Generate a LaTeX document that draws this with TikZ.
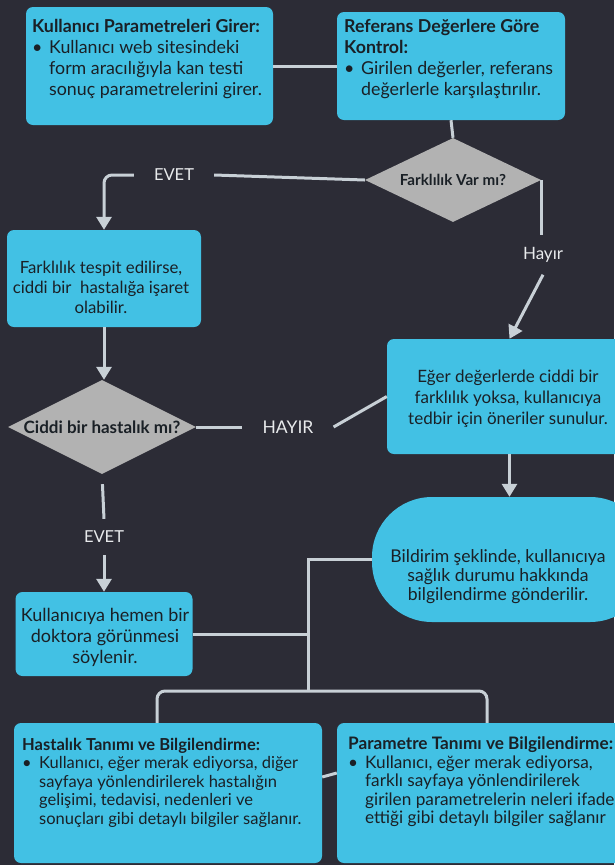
\documentclass[tikz,border=0pt]{standalone}
\usepackage{fontspec}
\setmainfont{Lato}
\usetikzlibrary{shapes.geometric,arrows.meta,positioning,calc}

\definecolor{bgdark}{RGB}{44,44,54}
\definecolor{boxcyan}{RGB}{66,193,228}
\definecolor{diagray}{RGB}{178,178,178}
\definecolor{linegray}{RGB}{200,208,214}
\definecolor{inkdark}{RGB}{26,32,38}
\definecolor{answerwhite}{RGB}{232,234,236}

% bullet and hanging indent for list lines
\newcommand{\bulletmark}{\makebox[17pt][l]{\textbullet}}
\newcommand{\bulletgap}{\hspace*{17pt}}

\begin{document}
\begin{tikzpicture}[x=1pt, y=-1pt,
    % Node styles
    stepbox/.style={fill=boxcyan, rounded corners=7pt, inner sep=0pt},
    bodytext/.style={text=inkdark, align=left, inner sep=0pt, anchor=north west},
    centertext/.style={text=inkdark, align=center, inner sep=0pt},
    decision/.style={diamond, fill=diagray, inner sep=0pt, aspect=2, text=inkdark},
    answer/.style={text=answerwhite, font=\fontsize{16.5}{18}\selectfont, inner xsep=20pt, inner ysep=12pt},
    link/.style={draw=linegray, line width=3pt},
    edge/.style={link, -{Triangle[width=15pt,length=13pt]}},
]

% ============================================================
% Canvas
% ============================================================
\fill[bgdark] (0,0) rectangle (614,865);
\useasboundingbox (0,0) rectangle (614,865);

% ============================================================
% Input and reference check
% ============================================================
\node[stepbox, minimum width=247, minimum height=118] (input) at (149.5,66) {};
\node[bodytext, font=\fontsize{17.8}{21}\selectfont] (input-txt) at (32,19) {
  \textbf{Kullanıcı Parametreleri Girer:}\\
  \bulletmark Kullanıcı web sitesindeki\\
  \bulletgap form aracılığıyla kan testi\\
  \bulletgap sonuç parametrelerini girer.};

\node[stepbox, minimum width=228, minimum height=108] (check) at (451,66) {};
\node[bodytext, font=\fontsize{17.8}{21}\selectfont] (check-txt) at (344,19) {
  \textbf{Referans Değerlere Göre}\\
  \textbf{Kontrol:}\\
  \bulletmark Girilen değerler, referans\\
  \bulletgap değerlerle karşılaştırılır.};

% ============================================================
% First decision
% ============================================================
\node[decision, minimum width=176, minimum height=84, font=\bfseries\fontsize{15.2}{17}\selectfont] (diff) at (453,180) {Farklılık Var mı?};
\node[answer] (yes1) at (174,175) {EVET};
\node[answer, font=\fontsize{17}{19}\selectfont] (no1) at (543,255) {Hayır};

\node[stepbox, minimum width=194, minimum height=97] (hint) at (104,278.5) {};
\node[centertext, font=\fontsize{16.8}{20}\selectfont] (hint-txt) at (101,287) {
  Farklılık tespit edilirse,\\
  ciddi bir\ \ hastalığa işaret\\
  olabilir.};

\node[stepbox, minimum width=245, minimum height=115] (advice) at (509.5,396.5) {};
\node[centertext, font=\fontsize{17}{21}\selectfont] (advice-txt) at (508,399) {
  Eğer değerlerde ciddi bir\\
  farklılık yoksa, kullanıcıya\\
  tedbir için öneriler sunulur.};

% ============================================================
% Second decision
% ============================================================
\node[decision, minimum width=188, minimum height=94, font=\bfseries\fontsize{17}{19}\selectfont] (disease-q) at (102,427) {Ciddi bir hastalık mı?};
\node[answer, font=\fontsize{17.5}{19}\selectfont] (no2) at (288,427) {HAYIR};
\node[answer] (yes2) at (104,537) {EVET};

\node[stepbox, minimum width=177, minimum height=84] (doctor) at (104,634) {};
\node[centertext, font=\fontsize{18}{21}\selectfont] (doctor-txt) at (105,637) {
  Kullanıcıya hemen bir\\
  doktora görünmesi\\
  söylenir.};

\node[stepbox, rounded corners=60pt, minimum width=278, minimum height=125] (notify) at (511,559.5) {};
\node[centertext, font=\fontsize{17.6}{19}\selectfont] (notify-txt) at (498,577) {
  Bildirim şeklinde, kullanıcıya\\
  sağlık durumu hakkında\\
  bilgilendirme gönderilir.};

% ============================================================
% Detail pages
% ============================================================
\node[stepbox, minimum width=308, minimum height=140] (disease) at (168,793) {};
\node[bodytext, font=\fontsize{16.5}{18.5}\selectfont] (disease-txt) at (22,738) {
  \textbf{Hastalık Tanımı ve Bilgilendirme:}\\
  \bulletmark Kullanıcı, eğer merak ediyorsa, diğer\\
  \bulletgap sayfaya yönlendirilerek hastalığın\\
  \bulletgap gelişimi, tedavisi, nedenleri ve\\
  \bulletgap sonuçları gibi detaylı bilgiler sağlanır.};

\node[stepbox, minimum width=300, minimum height=140] (param) at (487,793) {};
\node[bodytext, font=\fontsize{17.2}{18.5}\selectfont] (param-txt) at (348,737) {
  \textbf{Parametre Tanımı ve Bilgilendirme:}\\
  \bulletmark Kullanıcı, eğer merak ediyorsa,\\
  \bulletgap farklı sayfaya yönlendirilerek\\
  \bulletgap girilen parametrelerin neleri ifade\\
  \bulletgap ettiği gibi detaylı bilgiler sağlanır};

% ============================================================
% Connectors
% ============================================================
\draw[link] (input) -- (check);
\draw[link] (check.south) -- (diff.north);

\draw[link] (diff.west) -- (yes1.east);
\draw[edge, rounded corners=8pt] (yes1.west) -| (hint.north);
\draw[link] (diff.east) -- (diff.east |- no1.north);
\draw[edge] (no1.south) -- (advice.north);

\draw[edge] (hint.south) -- (hint.south |- disease-q.north);
\draw[link] (disease-q.east) -- (no2.west);
\draw[link] (no2.east) -- (advice.west);
\draw[link, shorten <=10pt] (disease-q.south) -- (yes2.north);
\draw[edge] (yes2.south) -- (doctor.north);

\draw[edge] (advice.south) -- (advice.south |- notify.north);

\coordinate (hub) at (308,691);
\draw[link] (notify.west) -| (hub);
\draw[link] (doctor.east) -- (doctor.east -| hub);
\draw[link, rounded corners=8pt] ([xshift=-11pt]disease.north) |- (hub) -| (param.north);
\draw[link] ([yshift=16pt]disease.east) -- ([yshift=20pt]param.west);

\end{tikzpicture}
\end{document}
